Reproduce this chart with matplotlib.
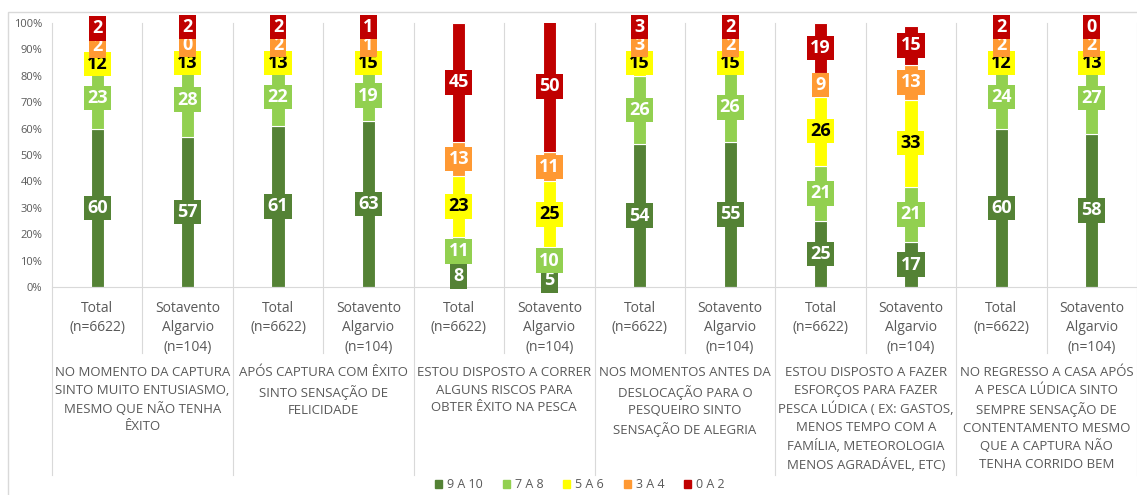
import matplotlib
matplotlib.use("Agg")
import matplotlib.pyplot as plt
from matplotlib.patches import Patch, Rectangle
from matplotlib.ticker import PercentFormatter
import numpy as np

plt.rcParams['font.family'] = ['Open Sans', 'DejaVu Sans']

# question groups (two bars each)
groups = [
    "NO MOMENTO DA CAPTURA\nSINTO MUITO ENTUSIASMO,\nMESMO QUE NÃO TENHA\nÊXITO",
    "APÓS CAPTURA COM ÊXITO\nSINTO SENSAÇÃO DE\nFELICIDADE",
    "ESTOU DISPOSTO A CORRER\nALGUNS RISCOS PARA\nOBTER ÊXITO NA PESCA",
    "NOS MOMENTOS ANTES DA\nDESLOCAÇÃO PARA O\nPESQUEIRO SINTO\nSENSAÇÃO DE ALEGRIA",
    "ESTOU DISPOSTO A FAZER\nESFORÇOS PARA FAZER\nPESCA LÚDICA ( EX: GASTOS,\nMENOS TEMPO COM A\nFAMÍLIA, METEOROLOGIA\nMENOS AGRADÁVEL, ETC)",
    "NO REGRESSO A CASA APÓS\nA PESCA LÚDICA SINTO\nSEMPRE SENSAÇÃO DE\nCONTENTAMENTO MESMO\nQUE A CAPTURA NÃO\nTENHA CORRIDO BEM",
]
subgroups = ["Total\n(n=6622)", "Sotavento\nAlgarvio\n(n=104)"] * 6

legend_labels = ["9 A 10", "7 A 8", "5 A 6", "3 A 4", "0 A 2"]
s_9a10 = [60, 57, 61, 63, 8, 5, 54, 55, 25, 17, 60, 58]
s_7a8 = [23, 28, 22, 19, 11, 10, 26, 26, 21, 21, 24, 27]
s_5a6 = [12, 13, 13, 15, 23, 25, 15, 15, 26, 33, 12, 13]
s_3a4 = [2, 0, 2, 1, 13, 11, 3, 2, 9, 13, 2, 2]
s_0a2 = [2, 2, 2, 1, 45, 50, 3, 2, 19, 15, 2, 0]

colors = ['#548235', '#92D050', '#FFFF00', '#FF9933', '#C00000']
text_colors = ['white', 'white', 'black', 'white', 'white']
grey = '#595959'
line_grey = '#D9D9D9'

W, H = 1137, 495
fig = plt.figure(figsize=(W / 100, H / 100), dpi=100)
ax = fig.add_axes([52 / W, 208 / H, 1085 / W, 264 / H])

series = [s_9a10, s_7a8, s_5a6, s_3a4, s_0a2]
x = np.arange(len(subgroups))
bottom = np.zeros(len(x))
centers = []
for vals, c in zip(series, colors):
    v = np.array(vals) / 100
    ax.bar(x, v, 0.145, bottom=bottom, color=c, edgecolor='white',
           linewidth=0.8, zorder=2)
    centers.append(bottom + v / 2)
    bottom = bottom + v
centers = np.array(centers)

# labels crowd at the top of the bars: keep the top one inside the chart
# and push the others down a bit, like excel does
gap = 0.068
centers[4] = np.minimum(centers[4], 0.985)
for j in range(len(x)):
    for k in range(3, -1, -1):
        centers[k, j] = min(centers[k, j], centers[k + 1, j] - gap)

for k in range(len(series)):
    for j in range(len(x)):
        ax.text(x[j], centers[k, j], str(series[k][j]), ha='center', va='center',
                fontsize=13, fontweight='bold', color=text_colors[k],
                zorder=4 + k, clip_on=False,
                bbox=dict(boxstyle='square,pad=0.18', fc=colors[k], ec='none'))

ax.set_xlim(-0.5, len(x) - 0.5)
ax.set_ylim(0, 1)
ax.set_yticks(np.arange(0, 1.01, 0.1))
ax.yaxis.set_major_formatter(PercentFormatter(1.0, decimals=0))
ax.set_xticks([])
ax.tick_params(axis='y', length=0, labelsize=8, labelcolor=grey, pad=7)
for s in ['top', 'right', 'left']:
    ax.spines[s].set_visible(False)
ax.spines['bottom'].set_color(line_grey)

# category separators, longer between groups
xt = ax.get_xaxis_transform()
for i, b in enumerate(np.arange(-0.5, len(x), 1)):
    low = -0.712 if i % 2 == 0 else -0.25
    ax.plot([b, b], [low, 1], color=line_grey, lw=0.8, transform=xt,
            clip_on=False, zorder=1)

for j, lab in enumerate(subgroups):
    ax.text(j, -0.052, lab, transform=xt, ha='center', va='top', fontsize=10,
            color=grey, linespacing=1.42)

for g, lab in enumerate(groups):
    ax.text(2 * g + 0.5, -0.3, lab, transform=xt, ha='center', va='top',
            fontsize=9.5, color=grey, linespacing=1.45)

handles = [Patch(color=c, label=l) for c, l in zip(colors, legend_labels)]
fig.legend(handles=handles, loc='center', bbox_to_anchor=(580 / W, 1 - 485 / H),
           ncol=5, frameon=False, fontsize=9, handlelength=0.55, handleheight=0.55,
           handletextpad=0.4, columnspacing=1.6, labelcolor=grey)

# chart area border (left and top visible)
fig.add_artist(Rectangle((8 / W, -0.1), 1.2, 1 - 12 / H + 0.1,
                         transform=fig.transFigure, fill=False,
                         ec=line_grey, lw=1))

fig.savefig('out.png', dpi=100)
